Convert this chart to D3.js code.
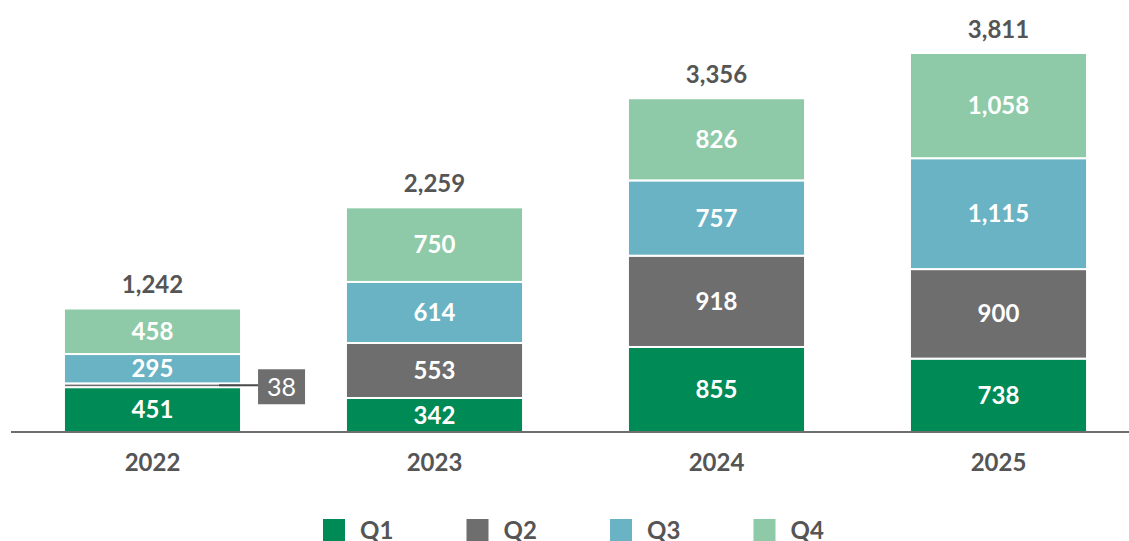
<!DOCTYPE html>
<html>
<head>
<meta charset="utf-8">
<script src="https://cdn.jsdelivr.net/npm/d3@7"></script>
<style>
  body { margin: 0; background: #fff; }
  svg { display: block; font-family: Lato, "Open Sans", sans-serif; }
</style>
</head>
<body>
<div id="chart"></div>
<script>
const years = ['2022', '2023', '2024', '2025'];
const quarters = ['Q1', 'Q2', 'Q3', 'Q4'];
const q1 = [451, 342, 855, 738];
const q2 = [38, 553, 918, 900];
const q3 = [295, 614, 757, 1115];
const q4 = [458, 750, 826, 1058];
const totals = [1242, 2259, 3356, 3811];
const colors = ['#008a55', '#6e6e6e', '#69b3c5', '#8fcaa8'];

const width = 1129, height = 541;
const baseline = 432;

const svg = d3.select('#chart')
  .append('svg')
  .attr('width', width)
  .attr('height', height);

const x = d3.scaleBand()
  .domain(years)
  .range([11.5, 1139.5])
  .paddingInner(0.372)
  .paddingOuter(0.186);

const y = d3.scaleLinear()
  .domain([0, 3811])
  .range([baseline, 53]);

const table = years.map((yr, i) => ({year: yr, Q1: q1[i], Q2: q2[i], Q3: q3[i], Q4: q4[i]}));
const series = d3.stack().keys(quarters)(table);
const fmt = d3.format(',');

const layers = svg.selectAll('g.layer')
  .data(series)
  .enter()
  .append('g')
  .attr('class', 'layer')
  .attr('fill', (d, i) => colors[i]);

layers.selectAll('rect')
  .data(d => d)
  .enter()
  .append('rect')
  .attr('x', d => x(d.data.year))
  .attr('width', x.bandwidth())
  .attr('y', d => y(d[1]))
  .attr('height', d => Math.max(0, y(d[0]) - y(d[1])))
  .attr('stroke', '#fff')
  .attr('stroke-width', 2);

// segment labels (skip tiny ones)
series.forEach((s, si) => {
  s.forEach(d => {
    const v = d[1] - d[0];
    if (v < 150) return;
    svg.append('text')
      .attr('x', x(d.data.year) + x.bandwidth() / 2)
      .attr('y', (y(d[0]) + y(d[1])) / 2)
      .attr('dy', '0.36em')
      .attr('text-anchor', 'middle')
      .attr('fill', '#fff')
      .attr('font-size', 24)
      .attr('font-weight', 'bold')
      .text(fmt(v));
  });
});

// callout for the small 2022 Q2 value
const small = series[1][0];
const cy = (y(small[0]) + y(small[1])) / 2;
const bx = x('2022') + x.bandwidth();
svg.append('line')
  .attr('x1', bx - 22).attr('x2', bx + 18)
  .attr('y1', cy).attr('y2', cy)
  .attr('stroke', '#4a4a4a')
  .attr('stroke-width', 2);
svg.append('rect')
  .attr('x', bx + 17).attr('y', cy - 16)
  .attr('width', 47).attr('height', 35)
  .attr('fill', '#6e6e6e');
svg.append('text')
  .attr('x', bx + 40.5).attr('y', cy + 2)
  .attr('dy', '0.36em')
  .attr('text-anchor', 'middle')
  .attr('fill', '#fff')
  .attr('font-size', 25)
  .text(fmt(q2[0]));

// totals
svg.selectAll('text.total')
  .data(totals)
  .enter()
  .append('text')
  .attr('class', 'total')
  .attr('x', (d, i) => x(years[i]) + x.bandwidth() / 2)
  .attr('y', d => y(d) - 15)
  .attr('text-anchor', 'middle')
  .attr('fill', '#555')
  .attr('font-size', 24)
  .attr('font-weight', 'bold')
  .text(d => fmt(d));

// axis
const axis = svg.append('g')
  .attr('transform', `translate(0,${baseline})`)
  .call(d3.axisBottom(x).tickSize(0).tickPadding(22));
axis.select('.domain')
  .attr('d', `M11,0H${width}`)
  .attr('stroke', '#6e6e6e')
  .attr('stroke-width', 2);
axis.selectAll('text')
  .attr('font-family', 'Lato, sans-serif')
  .attr('font-size', 24)
  .attr('font-weight', 'bold')
  .attr('fill', '#555');

// legend
const legend = svg.selectAll('g.legend')
  .data(quarters)
  .enter()
  .append('g')
  .attr('class', 'legend')
  .attr('transform', (d, i) => `translate(${323 + i * 143.5},519)`);
legend.append('rect')
  .attr('width', 22).attr('height', 22)
  .attr('fill', (d, i) => colors[i]);
legend.append('text')
  .attr('x', 37).attr('y', 20)
  .attr('fill', '#555')
  .attr('font-size', 24)
  .attr('font-weight', 'bold')
  .text(d => d);
</script>
</body>
</html>
